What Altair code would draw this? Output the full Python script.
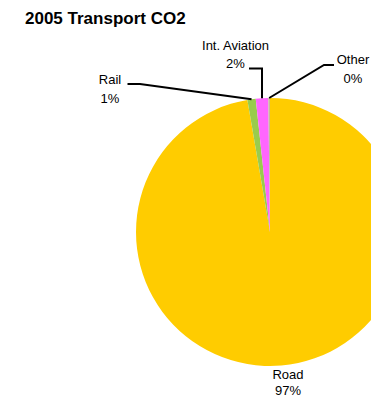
import math
import altair as alt
import pandas as pd

# data
categories = ["Road", "Rail", "Int. Aviation", "Other"]
shares = [97.3, 1.0, 1.5, 0.2]
pct_labels = ["97%", "1%", "2%", "0%"]
colors = ["#FFCC00", "#99CC4D", "#FF66FF", "#C8BC96"]

# layout (view pixel coordinates)
CX, CY, R = 262, 200, 134
label_pos = {  # centre x, baseline of name line, baseline of percent line
    "Road": (280, 347, 362.5),
    "Rail": (102, 52, 71),
    "Int. Aviation": (227.5, 18, 36),
    "Other": (345, 32, 51),
}
leader_start = {  # (start x, y, elbow x) ; None elbow => use slice x
    "Rail": (119.5, 52, 132),
    "Int. Aviation": (241, 36.5, None),
    "Other": (326, 33, 316),
}

pie = pd.DataFrame({
    "cat": categories,
    "share": shares,
    "idx": list(range(len(categories))),
})

# anchor points on slice edges, derived from cumulative shares
total = sum(shares)
cum = 0
anchors = {}
for c, s in zip(categories, shares):
    mid = (cum + s / 2) / total * 2 * math.pi
    anchors[c] = (CX + R * math.sin(mid), CY - R * math.cos(mid))
    cum += s

rows = []
for c, (sx, sy, ex) in leader_start.items():
    ax, ay = anchors[c]
    if ex is None:
        ex = ax
    rows += [
        {"name": c, "o": 0, "x": sx, "y": sy},
        {"name": c, "o": 1, "x": ex, "y": sy},
        {"name": c, "o": 2, "x": ax, "y": ay},
    ]
lines = pd.DataFrame(rows)

trows = []
for c, p in zip(categories, pct_labels):
    lx, y1, y2 = label_pos[c]
    trows.append({"text": c, "lx": lx, "ly": y1})
    trows.append({"text": p, "lx": lx, "ly": y2})
labels = pd.DataFrame(trows)

arc = alt.Chart(pie).mark_arc(radius=R, strokeWidth=0).encode(
    theta=alt.Theta("share:Q", stack=True),
    order=alt.Order("idx:Q"),
    color=alt.Color("cat:N", scale=alt.Scale(domain=categories, range=colors), legend=None),
    x=alt.value(CX),
    y=alt.value(CY),
)

leaders = alt.Chart(lines).mark_line(color="black", strokeWidth=2).encode(
    x=alt.X("x:Q", scale=None, axis=None),
    y=alt.Y("y:Q", scale=None, axis=None),
    detail="name:N",
    order="o:Q",
)

text = alt.Chart(labels).mark_text(
    align="center", baseline="alphabetic",
    fontSize=13, font="Liberation Sans", color="black",
).encode(
    x=alt.X("lx:Q", scale=None, axis=None),
    y=alt.Y("ly:Q", scale=None, axis=None),
    text="text:N",
)

chart = alt.layer(arc, leaders, text).properties(
    width=363,
    height=365,
    autosize="none",
    padding={"left": 0, "top": 24, "right": 0, "bottom": 0},
    title=alt.TitleParams(
        "2005 Transport CO2", anchor="start", fontSize=17, font="Liberation Sans",
        fontWeight="bold", color="black", dx=17,
    ),
).configure_view(stroke=None)

chart.save("out.html", embed_options={"renderer": "svg", "actions": False})
